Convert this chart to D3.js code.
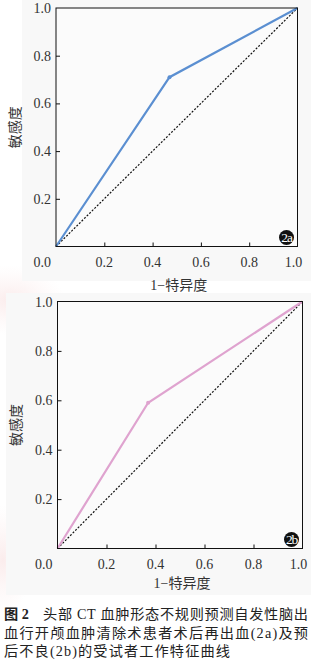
<!DOCTYPE html>
<html><head><meta charset="utf-8">
<script src="https://cdn.jsdelivr.net/npm/d3@7"></script>
<style>
html,body{margin:0;padding:0;background:#fff;}
svg{display:block;}
</style></head>
<body>
<script>
// ---- data ----
const rocA_fpr = [0, 0.47, 1];
const rocA_tpr = [0, 0.71, 1];
const rocB_fpr = [0, 0.37, 1];
const rocB_tpr = [0, 0.59, 1];
const tickValues = [0, 0.2, 0.4, 0.6, 0.8, 1.0];
const xTitle = "1−特异度";
const yTitle = "敏感度";
const badges = ["2a", "2b"];
const captionLines = [
  "头部 CT 血肿形态不规则预测自发性脑出",
  "血行开颅血肿清除术患者术后再出血(2a)及预",
  "后不良(2b)的受试者工作特征曲线"
];

const W = 311, H = 660;
const svg = d3.select("body").append("svg").attr("width", W).attr("height", H);
const FONT = "'Liberation Serif','Noto Sans CJK SC',serif";

// backgrounds
const defs = svg.append("defs");
const g1 = defs.append("radialGradient").attr("id","pk");
g1.append("stop").attr("offset","0%").attr("stop-color","#f9e4e4").attr("stop-opacity",0.7);
g1.append("stop").attr("offset","100%").attr("stop-color","#fbeeee").attr("stop-opacity",0);
svg.append("ellipse").attr("cx",10).attr("cy",300).attr("rx",55).attr("ry",35).attr("fill","url(#pk)");
svg.append("ellipse").attr("cx",3).attr("cy",560).attr("rx",30).attr("ry",55).attr("fill","url(#pk)");
svg.append("rect").attr("x",22).attr("y",0).attr("width",W-22).attr("height",281).attr("fill","#f8f8f8");
svg.append("rect").attr("x",6).attr("y",293).attr("width",W-6).attr("height",302).attr("fill","#f8f8f8");

const panels = [
  {x0:56, x1:297.5, yt:8, yb:246.5, fpr:rocA_fpr, tpr:rocA_tpr, color:"#5b8fd1", badge:badges[0], titleY:290, ytX:15},
  {x0:57.5, x1:302.5, yt:301.5, yb:548.5, fpr:rocB_fpr, tpr:rocB_tpr, color:"#dfa3cf", badge:badges[1], titleY:588, ytX:16}
];

panels.forEach(p => {
  const x = d3.scaleLinear().domain([0,1]).range([p.x0, p.x1]);
  const y = d3.scaleLinear().domain([0,1]).range([p.yb, p.yt]);
  const g = svg.append("g");
  g.append("rect").attr("x",p.x0).attr("y",p.yt).attr("width",p.x1-p.x0).attr("height",p.yb-p.yt)
    .attr("fill","#fbfbfb");

  // inward ticks via axes
  const xa = d3.axisTop(x).tickValues(tickValues.slice(1,-1)).tickSize(4).tickFormat("");
  g.append("g").attr("transform",`translate(0,${p.yb})`).call(xa)
    .call(s=>s.select(".domain").remove()).selectAll("line").attr("stroke","#111");
  const ya = d3.axisRight(y).tickValues(tickValues.slice(1,-1)).tickSize(4).tickFormat("");
  g.append("g").attr("transform",`translate(${p.x0},0)`).call(ya)
    .call(s=>s.select(".domain").remove()).selectAll("line").attr("stroke","#111");

  // tick labels
  tickValues.forEach(v => {
    if (v > 0) {
      g.append("text").attr("x", p.x0-5).attr("y", y(v)+5).attr("text-anchor","end")
        .attr("font-family",FONT).attr("font-size",14).attr("fill","#333").text(d3.format(".1f")(v));
    }
    const tx = v === 0 ? p.x0-5 : (v === 1 ? x(v)-4 : x(v));
    g.append("text").attr("x", tx).attr("y", p.yb+20)
      .attr("text-anchor", v === 0 ? "end" : "middle")
      .attr("font-family",FONT).attr("font-size",14).attr("fill","#333").text(d3.format(".1f")(v));
  });

  // diagonal
  g.append("line").attr("x1",x(0)).attr("y1",y(0)).attr("x2",x(1)).attr("y2",y(1))
    .attr("stroke","#111").attr("stroke-width",1.2).attr("stroke-dasharray","2,1.6");

  // roc line
  const pts = p.fpr.map((f,i)=>[f,p.tpr[i]]);
  g.append("path").datum(pts)
    .attr("d", d3.line().x(d=>x(d[0])).y(d=>y(d[1])))
    .attr("fill","none").attr("stroke",p.color).attr("stroke-width",2.2);
  g.append("circle").attr("cx",x(pts[1][0])).attr("cy",y(pts[1][1])).attr("r",2).attr("fill",p.color);

  // frame
  g.append("rect").attr("x",p.x0).attr("y",p.yt).attr("width",p.x1-p.x0).attr("height",p.yb-p.yt)
    .attr("fill","none").attr("stroke","#111").attr("stroke-width",1);

  // badge
  g.append("circle").attr("cx",p.x1-11).attr("cy",p.yb-9).attr("r",7.5).attr("fill","#111");
  g.append("text").attr("x",p.x1-11).attr("y",p.yb-4.3).attr("text-anchor","middle")
    .attr("font-family",FONT).attr("font-size",13.5).attr("letter-spacing",-1.2).attr("fill","#fff").text(p.badge);

  // axis titles
  g.append("text").attr("x",(p.x0+p.x1)/2+2).attr("y",p.titleY).attr("text-anchor","middle")
    .attr("font-family",FONT).attr("font-size",14).attr("fill","#333").text(xTitle);
  g.append("text").attr("transform",`translate(${p.ytX},${(p.yt+p.yb)/2}) rotate(-90)`)
    .attr("text-anchor","middle").attr("dy","0.35em")
    .attr("font-family",FONT).attr("font-size",14).attr("fill","#333").text(yTitle);
});

// caption
const cap = svg.append("g").attr("font-family",FONT).attr("font-size",14.2).attr("fill","#222");
const l1 = cap.append("text").attr("x",4).attr("y",619);
l1.append("tspan").attr("font-weight","bold").text("图 2");
cap.append("text").attr("x",43).attr("y",619).attr("textLength",265).attr("lengthAdjust","spacing").text(captionLines[0]);
cap.append("text").attr("x",4).attr("y",637.5).attr("textLength",304).attr("lengthAdjust","spacing").text(captionLines[1]);
cap.append("text").attr("x",4).attr("y",656).attr("textLength",226).attr("lengthAdjust","spacing").text(captionLines[2]);
</script>
</body></html>
